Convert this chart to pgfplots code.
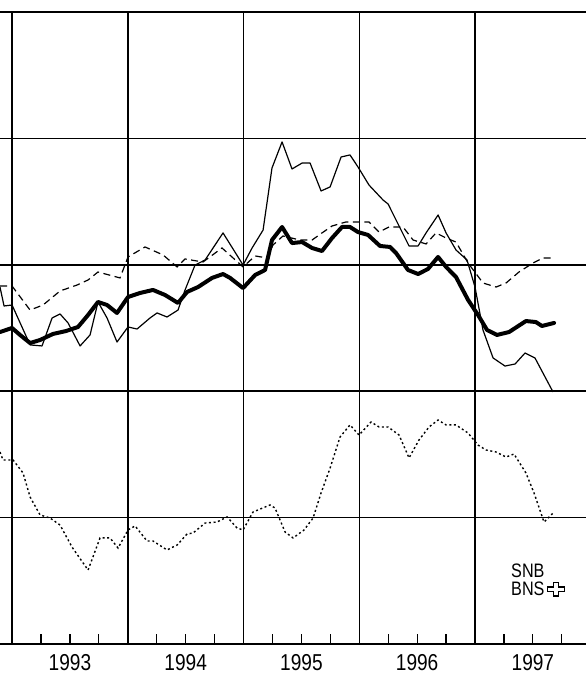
\documentclass[border=0pt]{standalone}
\usepackage{fontspec}
\setmainfont{Liberation Sans}
\newfontfamily\narrow[FakeStretch=0.83]{Liberation Sans}
\usepackage{pgfplots}
\pgfplotsset{compat=1.18}
\usepackage{pgfplotstable}

\pgfplotstableread{
x y
1992.896 2.468
1993.000 2.500
1993.069 2.445
1993.156 2.381
1993.242 2.405
1993.354 2.453
1993.467 2.476
1993.570 2.508
1993.657 2.603
1993.743 2.706
1993.821 2.682
1993.907 2.619
1994.002 2.745
1994.106 2.777
1994.218 2.801
1994.322 2.761
1994.434 2.698
1994.512 2.785
1994.607 2.824
1994.728 2.896
1994.823 2.927
1994.884 2.896
1994.996 2.816
1995.100 2.919
1995.186 2.959
1995.246 3.196
1995.333 3.299
1995.419 3.172
1995.506 3.180
1995.592 3.133
1995.678 3.109
1995.765 3.212
1995.851 3.299
1995.920 3.299
1995.989 3.259
1996.076 3.236
1996.179 3.149
1996.266 3.141
1996.318 3.093
1996.421 2.959
1996.508 2.927
1996.594 2.967
1996.681 3.062
1996.750 2.983
1996.836 2.903
1996.940 2.722
1997.026 2.603
1997.104 2.484
1997.190 2.445
1997.294 2.468
1997.440 2.555
1997.526 2.547
1997.578 2.516
1997.683 2.540
}\thick

\pgfplotstableread{
x y
1992.896 2.824
1992.931 2.674
1993.000 2.682
1993.156 2.366
1993.259 2.358
1993.346 2.579
1993.415 2.611
1993.484 2.540
1993.588 2.358
1993.674 2.445
1993.743 2.706
1993.821 2.579
1993.907 2.389
1994.002 2.508
1994.080 2.492
1994.192 2.579
1994.253 2.619
1994.339 2.587
1994.434 2.642
1994.495 2.801
1994.581 2.998
1994.668 3.038
1994.823 3.252
1994.996 2.998
1995.074 3.133
1995.169 3.275
1995.246 3.766
1995.333 3.972
1995.419 3.758
1995.506 3.805
1995.575 3.805
1995.670 3.584
1995.748 3.616
1995.843 3.853
1995.920 3.869
1995.989 3.774
1996.084 3.631
1996.205 3.513
1996.249 3.481
1996.318 3.354
1996.430 3.149
1996.508 3.149
1996.577 3.252
1996.681 3.394
1996.750 3.252
1996.836 3.117
1996.931 3.038
1997.000 2.824
1997.069 2.484
1997.156 2.263
1997.259 2.199
1997.346 2.215
1997.432 2.302
1997.518 2.263
1997.674 1.994
}\thin

\pgfplotstableread{
x y
1992.896 2.832
1993.000 2.832
1993.156 2.642
1993.268 2.682
1993.415 2.793
1993.562 2.840
1993.657 2.880
1993.743 2.943
1993.933 2.896
1994.002 3.062
1994.149 3.141
1994.305 3.078
1994.426 2.983
1994.495 3.046
1994.650 3.022
1994.814 3.133
1994.996 2.983
1995.100 3.070
1995.203 3.054
1995.255 3.157
1995.341 3.228
1995.488 3.196
1995.592 3.196
1995.678 3.252
1995.765 3.307
1995.886 3.339
1996.084 3.339
1996.171 3.259
1996.257 3.299
1996.378 3.299
1996.465 3.196
1996.577 3.165
1996.663 3.252
1996.750 3.212
1996.836 3.180
1996.940 3.014
1997.069 2.856
1997.182 2.824
1997.268 2.856
1997.380 2.943
1997.501 3.014
1997.588 3.054
1997.683 3.054
}\dashed

\pgfplotstableread{
x y
1992.896 1.519
1992.922 1.456
1993.009 1.456
1993.095 1.353
1993.156 1.163
1993.242 1.021
1993.328 0.997
1993.415 0.941
1993.518 0.767
1993.657 0.585
1993.760 0.839
1993.847 0.839
1993.916 0.759
1994.002 0.902
1994.063 0.934
1994.166 0.815
1994.218 0.815
1994.339 0.744
1994.426 0.783
1994.512 0.870
1994.564 0.878
1994.668 0.957
1994.771 0.965
1994.858 1.005
1994.944 0.918
1994.996 0.902
1995.082 1.044
1995.229 1.100
1995.272 1.076
1995.359 0.886
1995.428 0.839
1995.523 0.902
1995.601 0.997
1995.670 1.195
1995.748 1.392
1995.834 1.638
1995.920 1.733
1995.998 1.653
1996.102 1.756
1996.171 1.717
1996.249 1.717
1996.344 1.653
1996.430 1.472
1996.516 1.614
1996.603 1.717
1996.681 1.772
1996.750 1.733
1996.836 1.733
1996.940 1.669
1997.026 1.574
1997.095 1.535
1997.182 1.519
1997.268 1.479
1997.337 1.503
1997.440 1.353
1997.510 1.195
1997.596 0.965
1997.683 1.044
}\dotted

\begin{document}
\begin{tikzpicture}
\begin{axis}[
  name=ax,
  scale only axis,
  width=586pt, height=632pt,
  xmin=1992.896, xmax=1997.959,
  ymin=0, ymax=5,
  axis line style={draw=none},
  xtick={1993,1994,1995,1996,1997},
  xticklabels={},
  ytick={0,1,2,3,4,5},
  yticklabels={},
  xmajorgrids, ymajorgrids,
  grid style={black, line width=1.5pt},
  ytick style={draw=none},
  xtick style={draw=none},
  minor xtick={1993.25,1993.5,1993.75,1994.25,1994.5,1994.75,1995.25,1995.5,1995.75,1996.25,1996.5,1996.75,1997.25,1997.5,1997.75},
  minor x tick style={draw=black, line width=1.2pt},
  minor tick length=10pt,
  tick align=inside,
  xtick pos=bottom,
  extra x ticks={1993.5,1994.5,1995.5,1996.5,1997.5},
  extra x tick labels={1993,1994,1995,1996,1997},
  extra x tick style={grid=none, major tick length=0pt},
  xticklabel style={font=\narrow\fontsize{23}{26}\selectfont, anchor=base, yshift=-26pt},
  clip=true,
]
\addplot[black, line width=1.4pt, dash pattern=on 2pt off 2.6pt] table {\dotted};
\addplot[black, line width=1.2pt, dash pattern=on 7pt off 4.5pt] table {\dashed};
\addplot[black, line width=1.2pt, line join=round] table {\thin};
\addplot[black, line width=4pt, line join=round, line cap=round] table {\thick};
\node[anchor=base west, inner sep=0pt, font=\narrow\fontsize{19.5}{21}\selectfont] at (axis cs:1997.311,0.53) {SNB};
\node[anchor=base west, inner sep=0pt, font=\narrow\fontsize{19.5}{21}\selectfont] (bns) at (axis cs:1997.311,0.38) {BNS};
\draw[black, line width=1.2pt, line join=miter] ([xshift=3pt]bns.base east) ++(0pt,4.5pt) -- ++(6pt,0pt) -- ++(0pt,-4.5pt) -- ++(5pt,0pt) -- ++(0pt,4.5pt) -- ++(6pt,0pt) -- ++(0pt,4.5pt) -- ++(-6pt,0pt) -- ++(0pt,4.5pt) -- ++(-5pt,0pt) -- ++(0pt,-4.5pt) -- ++(-6pt,0pt) -- cycle;
\end{axis}
\pgfresetboundingbox
\path[use as bounding box] ([yshift=-31pt]ax.south west) rectangle ([yshift=12pt]ax.north east);
\end{tikzpicture}
\end{document}
